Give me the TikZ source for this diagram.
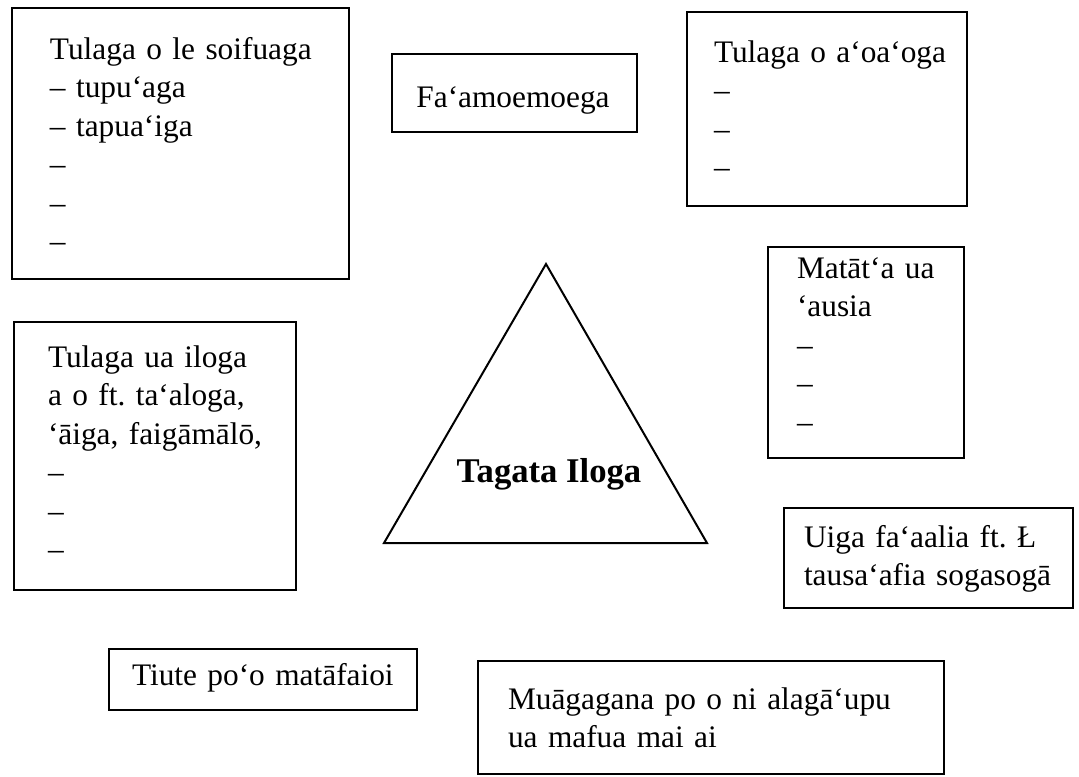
\documentclass[tikz,border=0pt]{standalone}
\usepackage{fontspec}
\setmainfont{Liberation Serif}
\frenchspacing
\begin{document}
\begin{tikzpicture}[x=0.75pt,y=-0.75pt,line join=miter,line width=1.5pt,
	font=\fontsize{23.5}{28.9}\selectfont,
	words/.style={anchor=base west,inner sep=0pt,text width=14cm,align=left}]
	\useasboundingbox (0,0) rectangle (1079,776);
	% boxes
	\draw (12,8) rectangle (349,279);
	\draw (392,54) rectangle (637,132);
	\draw (687,12) rectangle (967,206);
	\draw (14,322) rectangle (296,590);
	\draw (768,247) rectangle (964,458);
	\draw (784,508) rectangle (1073,608);
	\draw (109,649) rectangle (417,710);
	\draw (478,661) rectangle (944,774);
	% triangle
	\draw (546,264) -- (707,543) -- (384,543) -- cycle;
	\node[anchor=base,inner sep=0pt,font=\fontsize{26}{30}\selectfont\bfseries] (self) at (549,482) {Tagata Iloga};
	% texts
	\node[words] (life) at (49,59) {Tulaga o le soifuaga\\– tupu‘aga\\– tapua‘iga\\–\\–\\–};
	\node[anchor=base,inner sep=0pt] (goal) at (513,107) {Fa‘amoemoega};
	\node[words] (school) at (713,62) {Tulaga o a‘oa‘oga\\–\\–\\–};
	\node[words] (status) at (47,367) {Tulaga ua iloga\\a o ft. ta‘aloga,\\‘āiga, faigāmālō,\\–\\–\\–};
	\node[words] (deeds) at (796,278) {Matāt‘a ua\\‘ausia\\–\\–\\–};
	\node[words] (values) at (803,547) {Uiga fa‘aalia ft. Ł\\tausa‘afia sogasogā};
	\node[words] (duty) at (131,685) {Tiute po‘o matāfaioi};
	\node[words] (sayings) at (507,709) {Muāgagana po o ni alagā‘upu\\ua mafua mai ai};
\end{tikzpicture}
\end{document}
